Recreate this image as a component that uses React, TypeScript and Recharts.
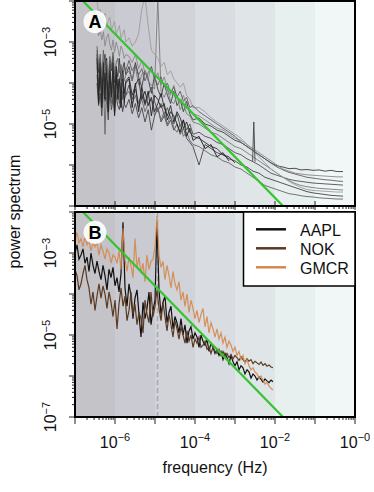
import { LineChart, Line, XAxis, YAxis, ReferenceArea, ReferenceLine } from 'recharts';

const FONT = '"Liberation Sans", Arial, Helvetica, sans-serif';

// ---- axes / decoration values ----
const X_DECADES = [-7, -6, -5, -4, -3, -2, -1, 0];
const X_LABELED = [-6, -4, -2, 0];
const Y_DECADES = [-7, -6, -5, -4, -3, -2];
const Y_LABELED_A = [-5, -3];
const Y_LABELED_B = [-7, -5, -3];
const MINOR = [2, 3, 4, 5, 6, 7, 8, 9];
const BAND_EDGES = [1e-7, 1e-6, 1e-5, 1e-4, 1e-3, 1e-2, 1e-1, 1];
const BAND_COLORS = ['#c4c3c8', '#cacad2', '#d1d3d9', '#d9dce1', '#e0e6e7', '#e8efef', '#f1f6f7'];
const DAILY_HZ = 1.157e-5;
const GREEN_F = [1e-7, 1];
const GREEN_P = [1.58e-2, 1.58e-9];

// ---- panel A: log10(frequency Hz) grid and log10(power) for each trace ----
const FA = [
  -6.45, -6.41, -6.37, -6.33, -6.29, -6.25, -6.21, -6.17, -6.13, -6.09, -6.05, -6.01, -5.97, -5.93, -5.89, -5.85, -5.81, -5.77, -5.73,
  -5.65, -5.57, -5.49, -5.41, -5.33, -5.25, -5.17, -5.09, -5.01, -4.93, -4.85, -4.77, -4.69, -4.61, -4.53, -4.45, -4.37, -4.29, -4.21, -4.13, -4.05,
  -3.9, -3.75, -3.6, -3.45, -3.3, -3.15, -3.0, -2.85, -2.7, -2.55, -2.4, -2.25, -2.1, -1.95, -1.8, -1.65, -1.5, -1.35, -1.2, -1.05, -0.9, -0.75, -0.6, -0.45, -0.3,
];
const A1 = [
  -3.2, -3.75, -3.4, -4.05, -3.55, -3.3, -3.9, -4.2, -3.45, -3.7, -3.35, -4.0, -3.6, -3.85, -3.4, -3.95, -3.65, -3.5, -3.8,
  -3.6, -3.95, -3.5, -3.85, -4.1, -3.7, -3.9, -4.25, -3.8, -4.15, -4.35, -4.0, -4.3, -4.5, -4.2, -4.55, -4.4, -4.7, -4.45, -4.75, -4.9,
  -4.85, -5.0, -5.05, -5.15, -5.2, -5.3, -5.4, -5.45, -5.55, -5.65, -5.75, -5.85, -5.95, -6.02, -6.05, -6.09, -6.08, -6.12, -6.11, -6.13, -6.12, -6.15, -6.13, -6.16, -6.16,
];
const A2 = [
  -2.6, -2.85, -2.7, -2.95, -2.75, -3.1, -2.9, -2.8, -3.05, -3.2, -2.95, -3.25, -3.0, -3.15, -3.35, -3.1, -3.2, -3.4, -3.3,
  -3.35, -3.5, -3.3, -3.65, -3.45, -3.75, -3.9, -3.6, -3.95, -3.75, -4.05, -3.85, -4.15, -4.3, -4.05, -4.35, -4.5, -4.3, -4.55, -4.65, -4.75,
  -4.8, -4.9, -5.0, -5.1, -5.15, -5.25, -5.35, -5.4, -5.5, -5.6, -5.7, -5.8, -5.9, -6.0, -6.1, -6.15, -6.2, -6.22, -6.24, -6.25, -6.26, -6.27, -6.28, -6.29, -6.29,
];
const A3 = [
  -3.8, -4.35, -3.65, -4.5, -4.1, -3.75, -4.3, -4.6, -3.85, -4.2, -4.45, -4.05, -3.9, -4.25, -4.5, -4.0, -4.4, -4.15, -4.3,
  -4.05, -4.4, -4.15, -4.5, -4.25, -4.55, -4.3, -4.1, -4.45, -4.7, -4.5, -4.8, -4.6, -4.85, -5.0, -4.75, -5.05, -4.9, -5.15, -5.0, -5.25,
  -5.2, -5.3, -5.35, -5.45, -5.5, -5.6, -5.7, -5.75, -5.85, -5.92, -6.0, -6.1, -6.2, -6.25, -6.3, -6.35, -6.38, -6.4, -6.42, -6.44, -6.45, -6.46, -6.47, -6.48, -6.49,
];
const A4 = [
  -3.5, -4.05, -3.7, -4.3, -3.55, -4.4, -3.85, -4.1, -3.6, -4.25, -3.95, -4.55, -3.75, -4.2, -3.85, -4.05, -3.65, -3.95, -3.8,
  -3.7, -3.95, -3.6, -4.05, -3.8, -3.7, -3.95, -4.05, -4.15, -1.9, -4.2, -4.35, -4.15, -4.45, -4.5, -4.3, -4.65, -4.5, -4.75, -4.8, -4.95,
  -5.0, -5.1, -5.2, -5.25, -5.35, -5.45, -5.55, -5.6, -5.7, -5.8, -5.9, -6.0, -6.1, -6.2, -6.3, -6.38, -6.45, -6.5, -6.53, -6.55, -6.57, -6.58, -6.59, -6.6, -6.61,
];
const A5 = [
  -2.0, -2.3, -2.2, -2.5, -2.4, -2.3, -2.6, -2.5, -2.4, -2.7, -2.6, -2.5, -2.8, -2.7, -2.6, -2.9, -2.8, -2.7, -3.0,
  -2.9, -3.1, -3.0, -2.8, -2.2, -1.9, -2.6, -3.2, -3.3, -3.4, -3.6, -3.5, -3.8, -3.7, -3.9, -4.0, -4.1, -4.0, -4.3, -4.4, -4.6,
  -4.6, -4.7, -4.85, -4.95, -5.05, -5.15, -5.25, -5.35, -5.5, -5.65, -5.8, -5.95, -6.1, -6.2, -6.3, -6.4, -6.48, -6.55, -6.6, -6.62, -6.63, -6.64, -6.65, -6.66, -6.66,
];
const A6 = [
  -4.0, -4.55, -4.25, -4.8, -4.1, -4.45, -4.35, -4.9, -4.2, -4.65, -4.4, -4.75, -4.3, -4.55, -4.65, -4.35, -4.7, -4.5, -4.6,
  -4.4, -4.75, -4.5, -4.85, -4.6, -4.95, -4.65, -5.15, -4.8, -4.6, -4.95, -4.8, -5.05, -4.9, -5.15, -5.0, -5.25, -5.1, -5.35, -5.45, -5.55,
  -6.0, -5.5, -5.6, -5.7, -5.75, -5.85, -5.9, -6.0, -6.05, -6.15, -6.2, -6.3, -6.35, -6.4, -6.45, -6.5, -6.55, -6.6, -6.65, -6.68, -6.7, -6.72, -6.74, -6.75, -6.76,
];
const A7 = [
  -3.6, -4.2, -3.8, -4.4, -3.9, -5.25, -4.0, -4.3, -3.8, -4.5, -4.1, -4.2, -4.4, -3.9, -4.3, -4.6, -4.2, -4.4, -4.3,
  -4.2, -4.5, -4.3, -4.6, -4.4, -4.7, -4.5, -4.4, -4.8, -4.6, -4.9, -4.7, -5.0, -4.8, -5.1, -5.2, -5.0, -5.3, -5.2, -5.4, -5.5,
  -5.55, -5.65, -5.75, -5.8, -5.9, -5.95, -6.05, -6.1, -6.2, -6.3, -6.4, -6.5, -6.55, -6.6, -6.65, -6.7, -6.72, -6.75, -6.77, -6.78, -6.8, -6.81, -6.82, -6.83, -6.83,
];
// shorter traces, stop near 1e-3 Hz
const A8 = [
  -3.4, -4.5, -3.5, -4.6, -3.6, -4.4, -3.4, -4.7, -3.7, -4.3, -3.5, -4.8, -3.8, -4.4, -3.9, -4.6, -3.7, -4.5, -4.0,
  -3.9, -4.6, -4.0, -4.7, -4.1, -4.5, -4.2, -4.8, -4.3, -4.4, -4.6, -4.5, -4.9, -4.7, -4.8, -5.0, -5.2, -4.9, -5.3, -5.1, -5.4,
  -5.3, -5.6, -5.5, -5.8, -5.7, -5.9,
];
const A9 = [
  -3.3, -4.2, -3.6, -4.45, -3.5, -4.1, -3.75, -4.6, -3.55, -4.35, -3.7, -4.5, -3.6, -4.15, -3.9, -4.4, -3.8, -4.25, -3.95,
  -3.85, -4.3, -4.05, -3.9, -4.4, -4.2, -4.55, -4.35, -4.7, -4.5, -4.25, -4.6, -4.8, -4.55, -4.95, -4.7, -4.85, -5.1, -4.95, -5.2, -5.3,
  -5.35, -5.45, -5.55, -5.6, -5.75, -5.8, -5.95,
];
const A10 = [
  -3.1, -3.6, -3.3, -3.85, -3.2, -3.7, -3.45, -3.95, -3.35, -3.65, -3.25, -3.8, -3.5, -3.4, -3.75, -3.55, -3.9, -3.6, -3.7,
  -3.45, -3.7, -3.55, -3.8, -3.65, -3.95, -3.75, -3.6, -3.9, -4.05, -3.85, -4.1, -4.0, -4.25, -4.1, -4.35, -4.2, -4.45, -4.35, -4.6, -4.55,
  -4.7, -4.8, -4.9, -5.0, -5.1, -5.2, -5.3, -5.45, -5.55, -5.65, -5.75, -5.85, -5.95, -6.05, -6.12, -6.18, -6.22, -6.26, -6.3, -6.32, -6.34, -6.36, -6.37, -6.39, -6.4,
];
// narrow spike of one trace near 3e-3 Hz
const A_SPIKE_F = [-2.56, -2.53, -2.5];
const A_SPIKE_P = [-5.9, -4.95, -5.92];

const A_SERIES = [A1, A2, A3, A4, A5, A6, A7, A8, A9, A10];
const A_COLORS = ['#3c3c3c', '#8a8a8a', '#505050', '#7a7a7a', '#9c9c9c', '#454545', '#666666', '#1e1e1e', '#2a2a2a', '#5f5f5f'];

// ---- panel B: log10(frequency Hz) grid and log10(power) per stock ----
const FB = [
  -7.0, -6.95, -6.9, -6.85, -6.8, -6.75, -6.7, -6.65, -6.6, -6.55,
  -6.5, -6.45, -6.4, -6.35, -6.3, -6.25, -6.2, -6.15, -6.1, -6.05,
  -6.0, -5.95, -5.9, -5.85, -5.8, -5.75, -5.7, -5.65, -5.6, -5.55,
  -5.5, -5.45, -5.4, -5.35, -5.3, -5.25, -5.2, -5.15, -5.1, -5.05,
  -5.0, -4.95, -4.9, -4.85, -4.8, -4.75, -4.7, -4.65, -4.6, -4.55,
  -4.5, -4.45, -4.4, -4.35, -4.3, -4.25, -4.2, -4.15, -4.1, -4.05,
  -4.0, -3.95, -3.9, -3.85, -3.8, -3.75, -3.7, -3.65, -3.6, -3.55,
  -3.5, -3.45, -3.4, -3.35, -3.3, -3.25, -3.2, -3.15, -3.1, -3.05,
  -3.0, -2.95, -2.9, -2.85, -2.8, -2.75, -2.7, -2.65, -2.6, -2.55,
  -2.5, -2.45, -2.4, -2.35, -2.3, -2.25, -2.2, -2.15, -2.1, -2.05,
];
const AAPL = [
  -3.0, -2.8, -3.15, -3.05, -2.9, -3.25, -3.1, -3.45, -3.0, -3.3, -3.5,
  -3.2, -3.45, -3.65, -3.3, -3.55, -3.9, -3.4, -3.6, -3.35, -3.8,
  -3.6, -3.95, -3.5, -2.25, -3.85, -4.3, -3.75, -4.05, -4.6,
  -4.1, -3.9, -4.5, -5.05, -4.2, -4.6, -4.35, -3.95, -4.75, -4.4, -4.15,
  -2.25,
  -3.9, -4.5, -4.2, -4.05, -4.7, -4.45, -4.3, -4.85, -4.55,
  -4.7, -4.95, -4.6, -5.0, -4.75, -5.2, -4.9, -4.8, -5.1, -4.95,
  -5.05, -5.3, -5.0, -5.15, -5.25, -5.1, -5.4, -5.2, -5.3, -5.45,
  -5.35, -5.5, -5.4, -5.6, -5.45, -5.55, -5.7, -5.5, -5.65, -5.75,
  -5.65, -5.85, -5.75, -5.8, -5.95, -5.85, -5.9, -6.05, -5.95, -6.0,
  -6.1, -6.02, -6.08, -6.15, -6.07, -6.12, -6.16, -6.1, -6.14,
];
const NOK = [
  -3.4, -3.55, -3.9, -3.75, -3.5, -3.3, -3.65, -3.85, -4.25, -3.95, -4.4,
  -4.05, -3.75, -4.1, -3.8, -4.0, -4.35, -3.95, -4.2, -4.55, -4.15,
  -4.85, -4.25, -3.85, -4.3, -4.05, -4.65, -4.4, -3.95, -4.5,
  -4.25, -4.75, -4.45, -4.6, -4.95, -4.15, -4.5, -4.7, -3.95, -4.55, -4.3,
  -3.9,
  -4.35, -4.65, -4.2, -4.55, -4.9, -4.5, -4.75, -5.05, -4.65,
  -4.85, -5.1, -4.8, -5.0, -5.2, -4.9, -5.15, -5.0, -5.3, -5.1,
  -5.2, -5.05, -5.3, -5.25, -5.15, -5.35, -5.3, -5.45, -5.3, -5.4,
  -5.45, -5.35, -5.5, -5.4, -5.52, -5.45, -5.55, -5.48, -5.58, -5.5,
  -5.55, -5.62, -5.53, -5.6, -5.66, -5.58, -5.64, -5.6, -5.7, -5.64,
  -5.68, -5.72, -5.66, -5.74, -5.7, -5.76, -5.73, -5.78, -5.8,
];
const GMCR = [
  -2.7, -2.5, -2.75, -2.65, -2.85, -2.6, -2.8, -2.7, -2.95, -2.75, -2.85,
  -2.75, -3.05, -2.8, -2.95, -3.15, -2.9, -3.0, -3.25, -3.05, -3.1,
  -3.25, -2.95, -3.4, -2.4, -3.15, -3.45, -3.1, -3.3, -3.6,
  -2.65, -3.35, -3.1, -3.5, -3.25, -3.7, -3.05, -3.4, -3.2, -3.15, -2.85,
  -2.1,
  -3.05, -3.35, -3.2, -3.65, -3.3, -3.55, -3.85, -3.45, -3.75,
  -3.9, -3.7, -4.15, -3.95, -4.3, -4.0, -4.45, -4.15, -4.35, -4.6,
  -4.4, -4.7, -4.5, -4.35, -4.8, -4.55, -4.95, -4.7, -4.85, -5.05,
  -4.85, -5.1, -4.95, -5.2, -5.05, -5.3, -5.15, -5.25, -5.4, -5.3,
  -5.5, -5.4, -5.6, -5.5, -5.7, -5.6, -5.75, -5.85, -5.8, -5.9,
  -5.95, -6.05, -6.0, -6.1, -6.2, -6.15, -6.25, -6.3, -6.34,
];
const B_NAMES = ['AAPL', 'NOK', 'GMCR'];
const B_SERIES = [AAPL, NOK, GMCR];
const B_COLORS = ['#111111', '#5b3a22', '#d4884e'];

// ---- tables built from the arrays above ----
const toRows = (freqs: number[], series: number[][]) =>
  freqs.map((lf, i) => {
    const row: any = { f: 10 ** lf };
    series.forEach((s, k) => {
      row['s' + k] = s[i] == null ? null : 10 ** s[i];
    });
    return row;
  });

const tableA = toRows(FA, A_SERIES);
const tableB = toRows(FB, B_SERIES);
const spikeA = A_SPIKE_F.map((lf, i) => ({ f: 10 ** lf, p: 10 ** A_SPIKE_P[i] }));
const green = GREEN_F.map((f, i) => ({ f, p: GREEN_P[i] }));

const xTicks = X_DECADES.flatMap((d) => [10 ** d, ...(d < 0 ? MINOR.map((m) => m * 10 ** d) : [])]);
const yTicks = Y_DECADES.flatMap((d) => [10 ** d, ...(d < -2 ? MINOR.map((m) => m * 10 ** d) : [])]);

const W = 374;
const PLOT_L = 75;
const PLOT_R = 355;
const PLOT_H = 205;

const exp10 = (v: number) => {
  const e = Math.round(Math.log10(v));
  return { e, major: Math.abs(Math.log10(v) - e) < 1e-6 };
};

function XTick(props: any) {
  const { x, y, payload, labeled, inner } = props;
  const { e, major } = exp10(payload.value);
  const y1 = inner && major ? y - 5 : y;
  const y2 = y + (major ? (inner ? 4 : 7) : 3);
  return (
    <g>
      <line x1={x} x2={x} y1={y1} y2={y2} stroke="#222" strokeWidth={1} />
      {major && labeled && labeled.includes(e) && (
        <text x={x} y={y + 31} textAnchor="middle" fontSize={16} fontFamily={FONT} fill="#111">
          10
          <tspan dy={-7} fontSize={11}>
            {'\u2212' + Math.abs(e)}
          </tspan>
        </text>
      )}
    </g>
  );
}

function YTick(props: any) {
  const { x, y, payload, labeled } = props;
  const { e, major } = exp10(payload.value);
  return (
    <g>
      <line x1={x - (major ? 6 : 3)} x2={x} y1={y} y2={y} stroke="#222" strokeWidth={1} />
      {major && labeled.includes(e) && (
        <text
          transform={`translate(${x - 19.5},${y}) rotate(-90)`}
          textAnchor="middle"
          fontSize={16}
          fontFamily={FONT}
          fill="#111"
        >
          10
          <tspan dy={-6} fontSize={11}>
            {'\u2212' + Math.abs(e)}
          </tspan>
        </text>
      )}
    </g>
  );
}

function Bands() {
  return BAND_COLORS.map((c, i) => (
    <ReferenceArea
      key={'band' + i}
      x1={BAND_EDGES[i]}
      x2={BAND_EDGES[i + 1]}
      fill={c}
      fillOpacity={1}
      stroke="none"
    />
  ));
}

function Panel({ data, height, axisH, yLabeled, xLabeled, inner, children }: any) {
  return (
    <LineChart width={W} height={height} data={data} margin={{ top: 1, right: W - PLOT_R, left: 0, bottom: 0 }}>
      <XAxis
        type="number"
        dataKey="f"
        scale="log"
        domain={[1e-7, 1]}
        allowDataOverflow
        ticks={xTicks}
        interval={0}
        height={axisH}
        axisLine={false}
        tickLine={false}
        tickSize={0}
        tickMargin={0}
        tick={(p: any) => <XTick {...p} labeled={xLabeled} inner={inner} />}
      />
      <YAxis
        type="number"
        scale="log"
        domain={[1e-7, 1e-2]}
        allowDataOverflow
        ticks={yTicks}
        interval={0}
        width={PLOT_L}
        axisLine={false}
        tickLine={false}
        tickSize={0}
        tickMargin={0}
        tick={(p: any) => <YTick {...p} labeled={yLabeled} />}
      />
      {Bands()}
      {children}
      <Line
        data={green}
        dataKey="p"
        stroke="#35c42f"
        strokeWidth={2.2}
        dot={false}
        activeDot={false}
        isAnimationActive={false}
      />
    </LineChart>
  );
}

export default function App() {
  return (
    <div style={{ position: 'relative', width: W, height: 492, background: '#fff', fontFamily: FONT }}>
      <style>{'body{margin:0}'}</style>
      <div style={{ position: 'absolute', left: 0, top: 0 }}>
        <Panel data={tableA} height={211} axisH={5} yLabeled={Y_LABELED_A} xLabeled={null} inner>
          {A_SERIES.map((_, k) => (
            <Line
              key={'a' + k}
              dataKey={'s' + k}
              stroke={A_COLORS[k]}
              strokeWidth={1}
              strokeOpacity={0.9}
              dot={false}
              activeDot={false}
              connectNulls={false}
              isAnimationActive={false}
            />
          ))}
          <Line
            data={spikeA}
            dataKey="p"
            stroke={A_COLORS[2]}
            strokeWidth={1}
            dot={false}
            activeDot={false}
            isAnimationActive={false}
          />
        </Panel>
      </div>
      <div style={{ position: 'absolute', left: 0, top: 211 }}>
        <Panel data={tableB} height={281} axisH={75} yLabeled={Y_LABELED_B} xLabeled={X_LABELED} inner={false}>
          <ReferenceLine x={DAILY_HZ} stroke="#a9a9a9" strokeWidth={1.5} strokeDasharray="5 3" />
          {B_SERIES.map((_, k) => (
            <Line
              key={'b' + k}
              dataKey={'s' + k}
              name={B_NAMES[k]}
              stroke={B_COLORS[k]}
              strokeWidth={1.2}
              strokeOpacity={k === 2 ? 0.9 : 1}
              dot={false}
              activeDot={false}
              isAnimationActive={false}
            />
          ))}
        </Panel>
      </div>
      <svg width={W} height={492} style={{ position: 'absolute', left: 0, top: 0, pointerEvents: 'none' }}>
        <rect x={PLOT_L} y={1} width={PLOT_R - PLOT_L} height={PLOT_H} fill="none" stroke="#000" strokeWidth={2} />
        <rect x={PLOT_L} y={212} width={PLOT_R - PLOT_L} height={PLOT_H} fill="none" stroke="#000" strokeWidth={2} />
        <circle cx={95} cy={21.7} r={11.5} fill="#fff" fillOpacity={0.9} />
        <text x={95} y={28.3} textAnchor="middle" fontSize={18} fontWeight="bold" fontFamily={FONT}>A</text>
        <circle cx={95} cy={232.3} r={11.5} fill="#fff" fillOpacity={0.9} />
        <text x={95} y={238.9} textAnchor="middle" fontSize={18} fontWeight="bold" fontFamily={FONT}>B</text>
        <rect x={243.5} y={212} width={111.5} height={74} fill="#fff" stroke="#000" strokeWidth={1.5} />
        {B_NAMES.map((n, k) => (
          <g key={n}>
            <line x1={256} x2={286} y1={229.3 + 19 * k} y2={229.3 + 19 * k} stroke={B_COLORS[k]} strokeWidth={2.5} />
            <text x={300} y={236.3 + 19 * k} fontSize={16} fontFamily={FONT} fill="#111">{n}</text>
          </g>
        ))}
        <text
          transform="translate(20,211.5) rotate(-90)"
          textAnchor="middle"
          fontSize={16}
          fontFamily={FONT}
          fill="#111"
        >
          power spectrum
        </text>
        <text x={215} y={473} textAnchor="middle" fontSize={16} fontFamily={FONT} fill="#111">
          frequency (Hz)
        </text>
      </svg>
    </div>
  );
}
